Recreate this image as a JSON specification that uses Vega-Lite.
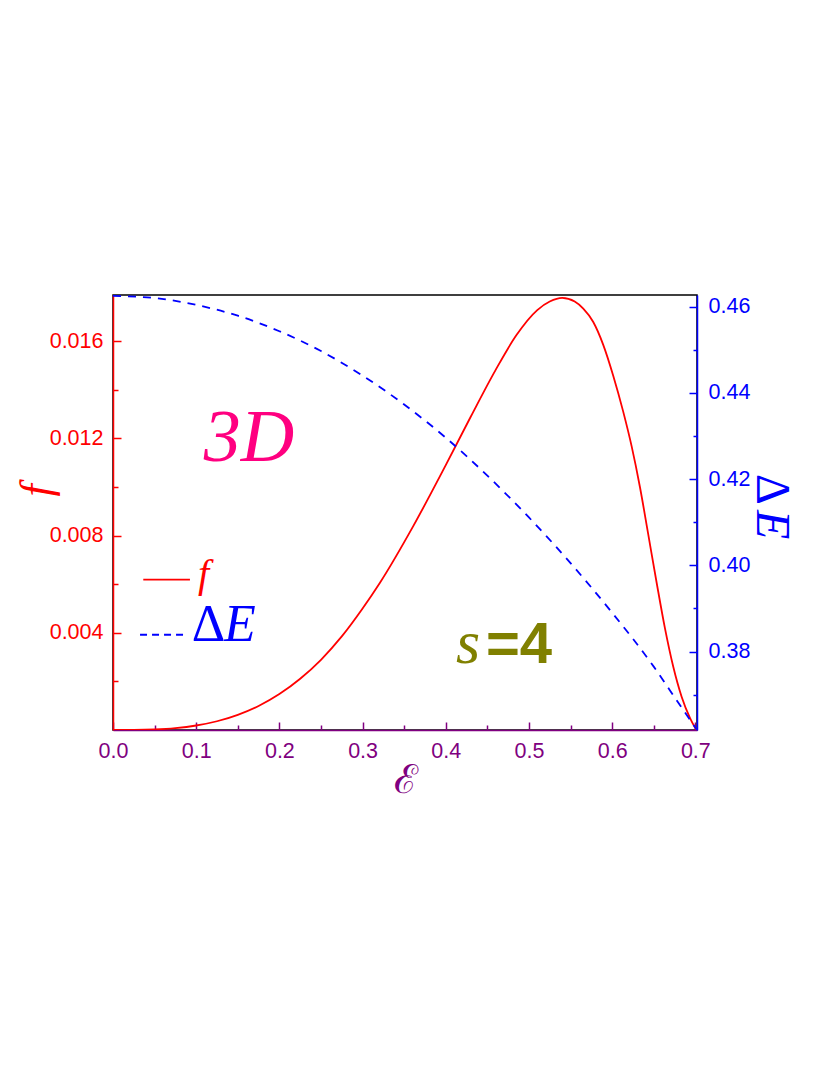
{
  "$schema": "https://vega.github.io/schema/vega-lite/v6.json",
  "autosize": "none",
  "width": 584,
  "height": 435,
  "padding": {"left": 113, "top": 295, "right": 133, "bottom": 345},
  "background": "white",
  "config": {
    "view": {"stroke": "black", "strokeWidth": 1.5},
    "axis": {"grid": false, "labelFont": "Liberation Sans", "labelFontSize": 21.5, "labelOverlap": false, "labelBound": false, "labelFlush": false, "domainWidth": 1.5, "tickWidth": 1.5, "tickSize": -8}
  },
  "datasets": {
    "fcurve": [
      {"x": 0.0, "f": 0.0},
      {"x": 0.025, "f": 0.000003},
      {"x": 0.05, "f": 0.000023},
      {"x": 0.075, "f": 0.000078},
      {"x": 0.1, "f": 0.000185},
      {"x": 0.125, "f": 0.00036},
      {"x": 0.15, "f": 0.000625},
      {"x": 0.175, "f": 0.00099},
      {"x": 0.2, "f": 0.00148},
      {"x": 0.225, "f": 0.00211},
      {"x": 0.25, "f": 0.00289},
      {"x": 0.275, "f": 0.00385},
      {"x": 0.3, "f": 0.005},
      {"x": 0.3209, "f": 0.00606},
      {"x": 0.3609, "f": 0.00839},
      {"x": 0.4, "f": 0.0109},
      {"x": 0.43, "f": 0.01289},
      {"x": 0.46, "f": 0.01482},
      {"x": 0.485, "f": 0.01625},
      {"x": 0.51, "f": 0.01728},
      {"x": 0.525, "f": 0.01763},
      {"x": 0.54, "f": 0.01778},
      {"x": 0.555, "f": 0.01763},
      {"x": 0.5653, "f": 0.01734},
      {"x": 0.5773, "f": 0.01679},
      {"x": 0.5893, "f": 0.01585},
      {"x": 0.6013, "f": 0.01458},
      {"x": 0.6133, "f": 0.0131},
      {"x": 0.6234, "f": 0.01168},
      {"x": 0.6334, "f": 0.01},
      {"x": 0.6434, "f": 0.00805},
      {"x": 0.6535, "f": 0.00606},
      {"x": 0.6635, "f": 0.00418},
      {"x": 0.6734, "f": 0.00261},
      {"x": 0.6835, "f": 0.00137},
      {"x": 0.6935, "f": 0.0005},
      {"x": 0.7012, "f": 0.0}
    ],
    "ecurve": [
      {"x": 0.0, "e": 0.4625},
      {"x": 0.05, "e": 0.462},
      {"x": 0.1, "e": 0.4604},
      {"x": 0.15, "e": 0.4579},
      {"x": 0.2, "e": 0.4543},
      {"x": 0.25, "e": 0.4497},
      {"x": 0.3, "e": 0.444},
      {"x": 0.35, "e": 0.4373},
      {"x": 0.4, "e": 0.4296},
      {"x": 0.45, "e": 0.4208},
      {"x": 0.5, "e": 0.4111},
      {"x": 0.55, "e": 0.4005},
      {"x": 0.6, "e": 0.389},
      {"x": 0.65, "e": 0.3765},
      {"x": 0.68, "e": 0.368},
      {"x": 0.702, "e": 0.3618}
    ],
    "legF": [{"x": 0.0364, "f": 0.00619}, {"x": 0.0925, "f": 0.00619}],
    "legE": [{"x": 0.0325, "f": 0.00392}, {"x": 0.0886, "f": 0.00392}]
  },
  "encoding": {
    "x": {
      "field": "x", "type": "quantitative",
      "scale": {"domain": [0, 0.702], "nice": false, "zero": false},
      "axis": {
        "orient": "bottom",
        "values": [0, 0.05, 0.1, 0.15, 0.2, 0.25, 0.3, 0.35, 0.4, 0.45, 0.5, 0.55, 0.6, 0.65, 0.7],
        "labelExpr": "round(datum.value*20) % 2 == 1 ? '' : format(datum.value, '.1f')",
        "tickDash": {"condition": {"test": "round(datum.value*20) % 2 == 1", "value": [5, 30]}, "value": [8, 0]},
        "labelColor": "#800080", "domainColor": "#800080", "tickColor": "#800080",
        "labelPadding": 18,
        "title": "ℰ", "titleFont": "DejaVu Serif", "titleFontSize": 40, "titleFontWeight": "normal",
        "titleColor": "#800080", "titleBaseline": "alphabetic", "titleY": 62
      }
    }
  },
  "layer": [
    {
      "encoding": {
        "y": {
          "field": "f", "type": "quantitative",
          "scale": {"domain": [0, 0.0179], "nice": false, "zero": false},
          "axis": {
            "orient": "left",
            "values": [0.002, 0.004, 0.006, 0.008, 0.01, 0.012, 0.014, 0.016],
            "labelExpr": "round(datum.value*500) % 2 == 1 ? '' : format(datum.value, '.3f')",
            "tickDash": {"condition": {"test": "round(datum.value*500) % 2 == 1", "value": [5, 30]}, "value": [8, 0]},
            "labelColor": "red", "domainColor": "red", "tickColor": "red",
            "labelPadding": 18,
            "title": "f", "titleFont": "Liberation Serif", "titleFontStyle": "italic", "titleFontWeight": "normal",
            "titleFontSize": 44, "titleColor": "red", "titleAngle": -90,
            "titleAlign": "center", "titleBaseline": "middle", "titleX": -76, "titleY": 195
          }
        }
      },
      "layer": [
        {
          "data": {"name": "fcurve"},
          "mark": {"type": "line", "color": "red", "strokeWidth": 1.8, "interpolate": "monotone", "clip": true}
        },
        {
          "data": {"name": "legF"},
          "mark": {"type": "line", "color": "red", "strokeWidth": 1.8}
        },
        {
          "data": {"name": "legE"},
          "mark": {"type": "line", "color": "blue", "strokeWidth": 1.8, "strokeDash": [7, 5]}
        },
        {
          "data": {"values": [{"x": 0.1635, "f": 0.01106, "t": "3D"}]},
          "mark": {"type": "text", "font": "Liberation Serif", "fontStyle": "italic", "fontSize": 74, "color": "#FF0080", "align": "center", "baseline": "alphabetic"},
          "encoding": {"text": {"field": "t"}}
        },
        {
          "data": {"values": [{"x": 0.4267, "f": 0.00277, "t": "s"}]},
          "mark": {"type": "text", "font": "Liberation Serif", "fontStyle": "italic", "fontSize": 62, "color": "#808000", "align": "center", "baseline": "alphabetic"},
          "encoding": {"text": {"field": "t"}}
        },
        {
          "data": {"values": [{"x": 0.4483, "f": 0.00277, "t": "=4"}]},
          "mark": {"type": "text", "font": "Liberation Sans", "fontWeight": "bold", "fontSize": 58, "color": "#808000", "align": "left", "baseline": "alphabetic"},
          "encoding": {"text": {"field": "t"}}
        },
        {
          "data": {"values": [{"x": 0.1022, "f": 0.0059, "t": "f"}]},
          "mark": {"type": "text", "font": "Liberation Serif", "fontStyle": "italic", "fontSize": 40, "color": "red", "align": "left", "baseline": "alphabetic"},
          "encoding": {"text": {"field": "t"}}
        },
        {
          "data": {"values": [{"x": 0.0946, "f": 0.003645, "t": "Δ"}]},
          "mark": {"type": "text", "font": "Liberation Serif", "fontSize": 52, "color": "blue", "align": "left", "baseline": "alphabetic"},
          "encoding": {"text": {"field": "t"}}
        },
        {
          "data": {"values": [{"x": 0.1335, "f": 0.003645, "t": "E"}]},
          "mark": {"type": "text", "font": "Liberation Serif", "fontStyle": "italic", "fontSize": 52, "color": "blue", "align": "left", "baseline": "alphabetic"},
          "encoding": {"text": {"field": "t"}}
        },
        {
          "data": {"values": [{"x": 0.7909, "f": 0.0099, "t": "Δ"}]},
          "mark": {"type": "text", "font": "Liberation Serif", "fontSize": 48, "color": "blue", "align": "center", "baseline": "middle", "angle": 90},
          "encoding": {"text": {"field": "t"}}
        },
        {
          "data": {"values": [{"x": 0.7909, "f": 0.00845, "t": "E"}]},
          "mark": {"type": "text", "font": "Liberation Serif", "fontStyle": "italic", "fontSize": 48, "color": "blue", "align": "center", "baseline": "middle", "angle": 90},
          "encoding": {"text": {"field": "t"}}
        }
      ]
    },
    {
      "data": {"name": "ecurve"},
      "mark": {"type": "line", "color": "blue", "strokeWidth": 1.8, "strokeDash": [8, 7], "interpolate": "monotone", "clip": true},
      "encoding": {
        "y": {
          "field": "e", "type": "quantitative",
          "scale": {"domain": [0.3618, 0.4627], "nice": false, "zero": false},
          "axis": {
            "orient": "right",
            "values": [0.37, 0.38, 0.39, 0.4, 0.41, 0.42, 0.43, 0.44, 0.45, 0.46],
            "labelExpr": "round(datum.value*100) % 2 == 1 ? '' : format(datum.value, '.2f')",
            "tickDash": {"condition": {"test": "round(datum.value*100) % 2 == 1", "value": [4, 30]}, "value": [8, 0]},
            "labelColor": "blue", "domainColor": "blue", "tickColor": "blue",
            "labelPadding": 19,
            "title": null
          }
        }
      }
    }
  ],
  "resolve": {"scale": {"y": "independent"}}
}
